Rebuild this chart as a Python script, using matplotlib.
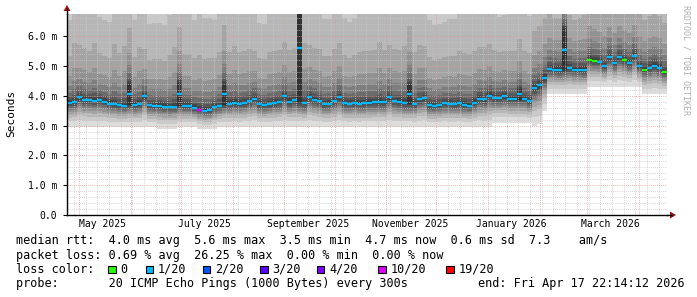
import numpy as np
import matplotlib
matplotlib.use("Agg")
import matplotlib.pyplot as plt
import matplotlib.dates as mdates
from matplotlib.patches import Rectangle, Polygon
from matplotlib.lines import Line2D
from datetime import datetime, timedelta

# ---------------- data ----------------
END = datetime(2026, 4, 17, 22, 14, 12)
SPAN_DAYS = 359
N_BINS = 120

# median rtt per bin (ms)
median_ms = [
    3.77, 3.78, 3.95, 3.86, 3.85, 3.84, 3.85, 3.81, 3.74, 3.72,
    3.68, 3.67, 4.05, 3.70, 3.72, 3.98, 3.68, 3.66, 3.67, 3.64,
    3.62, 3.64, 4.05, 3.66, 3.66, 3.60, 3.54, 3.50, 3.52, 3.62,
    3.65, 4.05, 3.74, 3.76, 3.73, 3.76, 3.82, 3.90, 3.72, 3.70,
    3.72, 3.76, 3.79, 3.98, 3.80, 3.85, 5.60, 3.75, 3.96, 3.87,
    3.82, 3.72, 3.74, 3.82, 3.95, 3.75, 3.74, 3.76, 3.74, 3.75,
    3.77, 3.78, 3.80, 3.78, 3.95, 3.82, 3.80, 3.75, 4.05, 3.72,
    3.88, 3.92, 3.68, 3.66, 3.70, 3.75, 3.74, 3.72, 3.75, 3.70,
    3.67, 3.77, 3.90, 3.88, 4.00, 3.92, 3.93, 3.98, 3.90, 3.90,
    4.05, 3.90, 3.82, 4.27, 4.35, 4.60, 4.90, 4.88, 4.87, 5.55,
    4.95, 4.88, 4.88, 4.87, 5.20, 5.18, 5.15, 5.00, 5.30, 5.10,
    5.30, 5.20, 5.10, 5.33, 5.00, 4.88, 4.94, 5.02, 4.94, 4.80,
]

# loss per bin, as index into loss_labels
loss_code = [1] * 120
for _i in (104, 105, 111, 115, 119):
    loss_code[_i] = 0
loss_code[26] = 5

loss_labels = ["0", "1/20", "2/20", "3/20", "4/20", "10/20", "19/20"]
loss_colors = ["#26ff00", "#00b8ff", "#0059ff", "#5e00ff", "#7e00ff", "#dd00ff", "#ff0000"]

# lowest ping per bin (ms)
smoke_low_ms = (
    [2.97] * 18 + [2.90] * 4 + [2.97] * 4 + [2.90] * 4 + [2.97] * 55
    + [3.10] * 8 + [3.00, 3.05, 3.50] + [4.05] * 8 + [4.30] * 11 + [4.05] * 5
)

# spread of the upper half of the smoke per bin (1 = typical)
upper_scale = [
    0.90, 1.15, 1.00, 1.00, 0.95, 1.10, 0.90, 0.88, 0.88, 1.15,
    1.00, 1.15, 1.10, 0.92, 1.10, 0.92, 0.88, 0.90, 0.90, 0.88,
    1.00, 1.15, 1.10, 1.00, 1.00, 0.95, 1.05, 1.00, 1.00, 0.95,
    1.05, 1.15, 1.00, 1.10, 1.00, 1.00, 1.00, 0.92, 0.88, 0.88,
    1.00, 1.00, 1.00, 1.05, 1.00, 1.00, 1.00, 1.15, 1.00, 1.00,
    1.00, 0.92, 0.92, 1.00, 1.05, 0.92, 0.88, 0.92, 1.00, 1.00,
    1.00, 1.00, 1.15, 1.00, 1.00, 1.00, 1.00, 1.10, 1.15, 1.00,
    1.05, 1.00, 0.92, 0.88, 0.88, 0.88, 0.92, 0.92, 1.00, 1.00,
    1.00, 1.00, 1.00, 1.00, 1.00, 0.92, 0.88, 0.88, 0.92, 0.92,
    1.00, 0.92, 0.92, 1.10, 1.15, 1.15, 1.05, 1.00, 1.00, 1.15,
    1.00, 0.95, 1.00, 1.05, 1.15, 1.05, 1.00, 1.00, 1.02, 1.00,
    1.05, 1.00, 1.00, 1.05, 1.00, 0.95, 1.00, 1.00, 1.00, 0.95,
]

# bins whose pings split into two groups: centre of the lower group (ms)
split_base = {12: 3.72, 22: 3.68, 31: 3.72, 46: 3.80, 68: 3.75, 90: 3.90, 99: 4.88}

# shape of the smoke around the centre
low_frac = [0.0, 0.22, 0.38, 0.50, 0.60, 0.69, 0.77, 0.85, 0.92, 0.97]
up_off = [0.05, 0.12, 0.22, 0.38, 0.62, 1.00, 1.75, 3.10, 4.80, 7.00]

month_labels = ["May 2025", "July 2025", "September 2025", "November 2025",
                "January 2026", "March 2026"]
label_months = [(2025, 5), (2025, 7), (2025, 9), (2025, 11), (2026, 1), (2026, 3)]

y_max = 6.75

# ---------------- figure ----------------
W, H = 697, 297
fig = plt.figure(figsize=(W / 100, H / 100), dpi=100)
fig.patch.set_facecolor("white")

L, R, T, B = 67, 667, 14, 215
ax = fig.add_axes([L / W, 1 - B / H, (R - L) / W, (B - T) / H])
ax.set_facecolor("white")

start = END - timedelta(days=SPAN_DAYS)
edges = [start + timedelta(days=SPAN_DAYS * i / N_BINS) for i in range(N_BINS + 1)]
xe = mdates.date2num(edges)

med = np.array(median_ms)
low = np.array(smoke_low_ms)
scale = np.array(upper_scale)
ranks = np.zeros((20, N_BINS))
for i in range(N_BINS):
    centre = split_base.get(i, med[i])
    for k in range(10):
        ranks[k, i] = low[i] + (centre - low[i]) * low_frac[k]
    jump = 0.0
    if i in split_base:
        jump = 2 * med[i] - ranks[9, i] - centre - up_off[0]
    for k in range(10):
        ranks[10 + k, i] = centre + up_off[k] * scale[i] + jump

grays = [int(190 / 10 * (10 - k)) + 50 for k in range(1, 11)]
for k in range(10):
    lo = np.append(ranks[k], ranks[k][-1])
    hi = np.append(ranks[19 - k], ranks[19 - k][-1])
    g = grays[k] / 255.0
    ax.fill_between(xe, lo, hi, step="post", color=(g, g, g), linewidth=0,
                    antialiased=False, zorder=1)

cols = [loss_colors[c] for c in loss_code]
ax.hlines(med, xe[:-1], xe[1:], colors=cols, linewidth=1.7, zorder=4,
          capstyle="butt")

ax.set_xlim(xe[0], xe[-1])
ax.set_ylim(0, y_max)

# grid
ax.xaxis.set_major_locator(mdates.MonthLocator())
ax.xaxis.set_minor_locator(mdates.WeekdayLocator(byweekday=mdates.MO))
ax.yaxis.set_major_locator(matplotlib.ticker.MultipleLocator(1.0))
ax.yaxis.set_minor_locator(matplotlib.ticker.MultipleLocator(0.2))
ax.grid(which="minor", color="#c8c8c8", linestyle=(0, (1, 1.5)), linewidth=0.6)
ax.grid(which="major", color="#e39a9a", linestyle=(0, (1, 1.5)), linewidth=0.6)
ax.set_axisbelow(False)
for gl in ax.get_xgridlines() + ax.get_ygridlines():
    gl.set_zorder(3)

ax.xaxis.set_major_formatter(matplotlib.ticker.NullFormatter())
ax.tick_params(axis="x", which="both", length=0)
ax.yaxis.set_major_formatter(matplotlib.ticker.FuncFormatter(
    lambda v, p: "0.0" if abs(v) < 1e-9 else "%.1f m" % v))
ax.tick_params(axis="y", which="major", length=3, width=0.8, color="black",
               labelsize=7, pad=4)
ax.tick_params(axis="y", which="minor", length=0)
for lab in ax.get_yticklabels():
    lab.set_family("DejaVu Sans Mono")

for sp in ("top", "right"):
    ax.spines[sp].set_visible(False)
ax.spines["left"].set_linewidth(1.0)
ax.spines["bottom"].set_linewidth(1.0)
ax.spines["left"].set_zorder(5)
ax.spines["bottom"].set_zorder(5)

for (yy, mm), lab in zip(label_months, month_labels):
    xd = mdates.date2num(datetime(yy, mm, 1) + timedelta(days=14))
    ax.text(xd, -0.3, lab, ha="center", va="center", fontsize=7,
            family="DejaVu Sans Mono", transform=ax.transData, clip_on=False)


def fx(px):
    return px / W


def fy(py):
    return 1 - py / H


# axis extensions and arrows
fig.add_artist(Line2D([fx(R), fx(672)], [fy(B), fy(B)], color="black", lw=1.0))
fig.add_artist(Line2D([fx(L), fx(L)], [fy(T), fy(9)], color="black", lw=1.0))
fig.add_artist(Polygon([[fx(670), fy(211.5)], [fx(676), fy(215)], [fx(670), fy(218.5)]],
                       closed=True, color="#a01010", lw=0, transform=fig.transFigure))
fig.add_artist(Polygon([[fx(63.5), fy(11)], [fx(67), fy(5)], [fx(70.5), fy(11)]],
                       closed=True, color="#a01010", lw=0, transform=fig.transFigure))

fig.text(fx(11), fy(113), "Seconds", rotation=90, ha="center", va="center",
         fontsize=8, family="DejaVu Sans Mono")
fig.text(fx(686), fy(5), "RRDTOOL / TOBI OETIKER", rotation=270, ha="center",
         va="top", fontsize=6, family="DejaVu Sans Mono", color="#b0b0b0")

# legend
FS = 8.5
fig.text(fx(16), fy(240.7),
         "median rtt:  4.0 ms avg  5.6 ms max  3.5 ms min  4.7 ms now  0.6 ms sd  7.3    am/s",
         fontsize=FS, family="DejaVu Sans Mono", va="center")
fig.text(fx(16), fy(255),
         "packet loss: 0.69 % avg  26.25 % max  0.00 % min  0.00 % now",
         fontsize=FS, family="DejaVu Sans Mono", va="center")
fig.text(fx(16), fy(269.2), "loss color:", fontsize=FS, family="DejaVu Sans Mono",
         va="center")
box_x = [108.3, 145.7, 202.7, 260.0, 316.7, 378.3, 446.0]
for bx, lab, col in zip(box_x, loss_labels, loss_colors):
    fig.add_artist(Rectangle((fx(bx), fy(273)), fx(7.5), 7.5 / H, facecolor=col,
                             edgecolor="black", lw=0.8, transform=fig.transFigure))
    fig.text(fx(bx + 12.3), fy(269.2), lab, fontsize=FS, family="DejaVu Sans Mono",
             va="center")
fig.text(fx(16), fy(283.3), "probe:       20 ICMP Echo Pings (1000 Bytes) every 300s",
         fontsize=FS, family="DejaVu Sans Mono", va="center")
fig.text(fx(478.3), fy(283.3), "end: Fri Apr 17 22:14:12 2026",
         fontsize=FS, family="DejaVu Sans Mono", va="center")

fig.savefig("out.png", dpi=100, facecolor="white")
